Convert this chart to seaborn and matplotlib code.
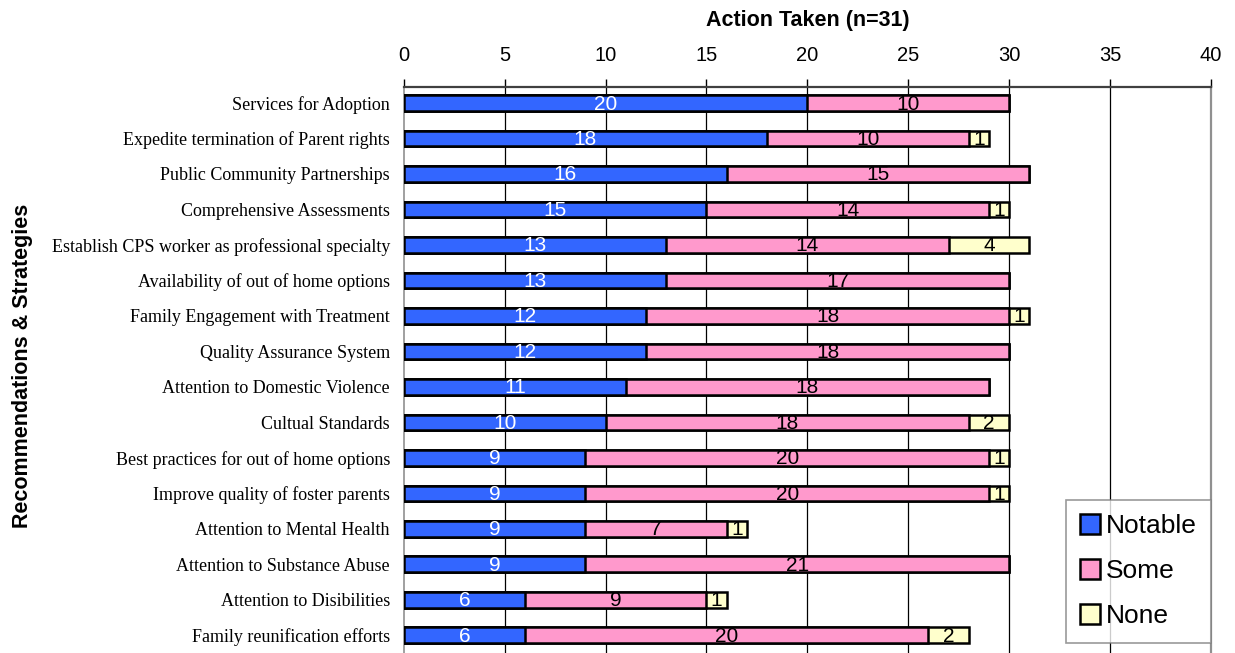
import numpy as np
import pandas as pd
import matplotlib
matplotlib.use("Agg")
import matplotlib.pyplot as plt
from matplotlib.patches import Patch
import seaborn as sns

categories = [
    "Services for Adoption",
    "Expedite termination of Parent rights",
    "Public Community Partnerships",
    "Comprehensive Assessments",
    "Establish CPS worker as professional specialty",
    "Availability of out of home options",
    "Family Engagement with Treatment",
    "Quality Assurance System",
    "Attention to Domestic Violence",
    "Cultual Standards",
    "Best practices for out of home options",
    "Improve quality of foster parents",
    "Attention to Mental Health",
    "Attention to Substance Abuse",
    "Attention to Disibilities",
    "Family reunification efforts",
]
notable = [20, 18, 16, 15, 13, 13, 12, 12, 11, 10, 9, 9, 9, 9, 6, 6]
some = [10, 10, 15, 14, 14, 17, 18, 18, 18, 18, 20, 20, 7, 21, 9, 20]
none = [0, 1, 0, 1, 4, 0, 1, 0, 0, 2, 1, 1, 1, 0, 1, 2]
series_names = ["Notable", "Some", "None"]
x_ticks = [0, 5, 10, 15, 20, 25, 30, 35, 40]

colors = {"Notable": "#3366FF", "Some": "#FF99CC", "None": "#FFFFCC"}
label_colors = {"Notable": "white", "Some": "black", "None": "black"}

df = pd.DataFrame({"category": categories, "Notable": notable,
                   "Some": some, "None": none})
df["cum_notable"] = df["Notable"]
df["cum_some"] = df["Notable"] + df["Some"]
df["cum_none"] = df["cum_some"] + df["None"]

sns.set_theme(style="white")
plt.rcParams["font.family"] = ["Liberation Sans", "DejaVu Sans"]
plt.rcParams["text.color"] = "black"
plt.rcParams["axes.labelcolor"] = "black"
plt.rcParams["xtick.color"] = "black"
plt.rcParams["ytick.color"] = "black"

fig = plt.figure(figsize=(12.35, 6.53), dpi=100)
ax = fig.add_axes([0.327, 0.0, 0.6535, 0.8668])

# stacked bars drawn as cumulative layers, largest first
for col, name in [("cum_none", "None"), ("cum_some", "Some"), ("cum_notable", "Notable")]:
    sns.barplot(data=df, x=col, y="category", orient="h", color=colors[name],
                saturation=1, edgecolor="black", linewidth=1.8, width=0.44,
                ax=ax, zorder=3)

# segment value labels
for i in range(len(categories)):
    left = 0
    for name in series_names:
        v = df.loc[i, name]
        if v > 0:
            ax.text(left + v / 2, i + 0.03, str(v), ha="center", va="center",
                    fontsize=15, color=label_colors[name], zorder=5)
        left += v

ax.set_xlim(0, 40)
ax.set_ylim(15.5, -0.45)
ax.set_xticks(x_ticks)
ax.set_xticklabels([str(t) for t in x_ticks], fontsize=14.5)
ax.xaxis.tick_top()
ax.xaxis.set_label_position("top")
ax.tick_params(axis="x", which="major", direction="out", length=6, width=1,
               color="black", pad=10, top=True, bottom=False)
ax.tick_params(axis="y", length=0, pad=10)
for lbl in ax.get_yticklabels():
    lbl.set_fontfamily("Liberation Serif")
    lbl.set_fontsize(13)
    lbl.set_color("black")
ax.set_xlabel("Action Taken (n=31)", fontsize=15.5, fontweight="bold", labelpad=14)
ax.set_ylabel("")
fig.text(0.018, 0.44, "Recommendations & Strategies", rotation=90,
         ha="center", va="center", fontsize=15.5, fontweight="bold")

for x in x_ticks[1:-1]:
    ax.axvline(x, color="black", linewidth=0.9, zorder=1)
ax.grid(False)
ax.spines["top"].set_color("#404040")
ax.spines["top"].set_linewidth(1.6)
ax.spines["right"].set_color("#909090")
ax.spines["right"].set_linewidth(1.6)
ax.spines["left"].set_color("#909090")
ax.spines["left"].set_linewidth(1.2)
ax.spines["bottom"].set_visible(False)

handles = [Patch(facecolor=colors[n], edgecolor="black", linewidth=1.8, label=n)
           for n in series_names]
leg = ax.legend(handles=handles, loc="lower right",
                bbox_to_anchor=(1.0, 0.018), fontsize=19, frameon=True,
                fancybox=False, handlelength=0.75, handleheight=0.75,
                handletextpad=0.2, labelspacing=0.8, borderpad=0.55,
                borderaxespad=0.0)
for t in leg.get_texts():
    t.set_color("black")
leg.get_frame().set_edgecolor("#808080")
leg.get_frame().set_linewidth(1.2)
leg.set_zorder(10)

fig.savefig("out.png", dpi=100)
